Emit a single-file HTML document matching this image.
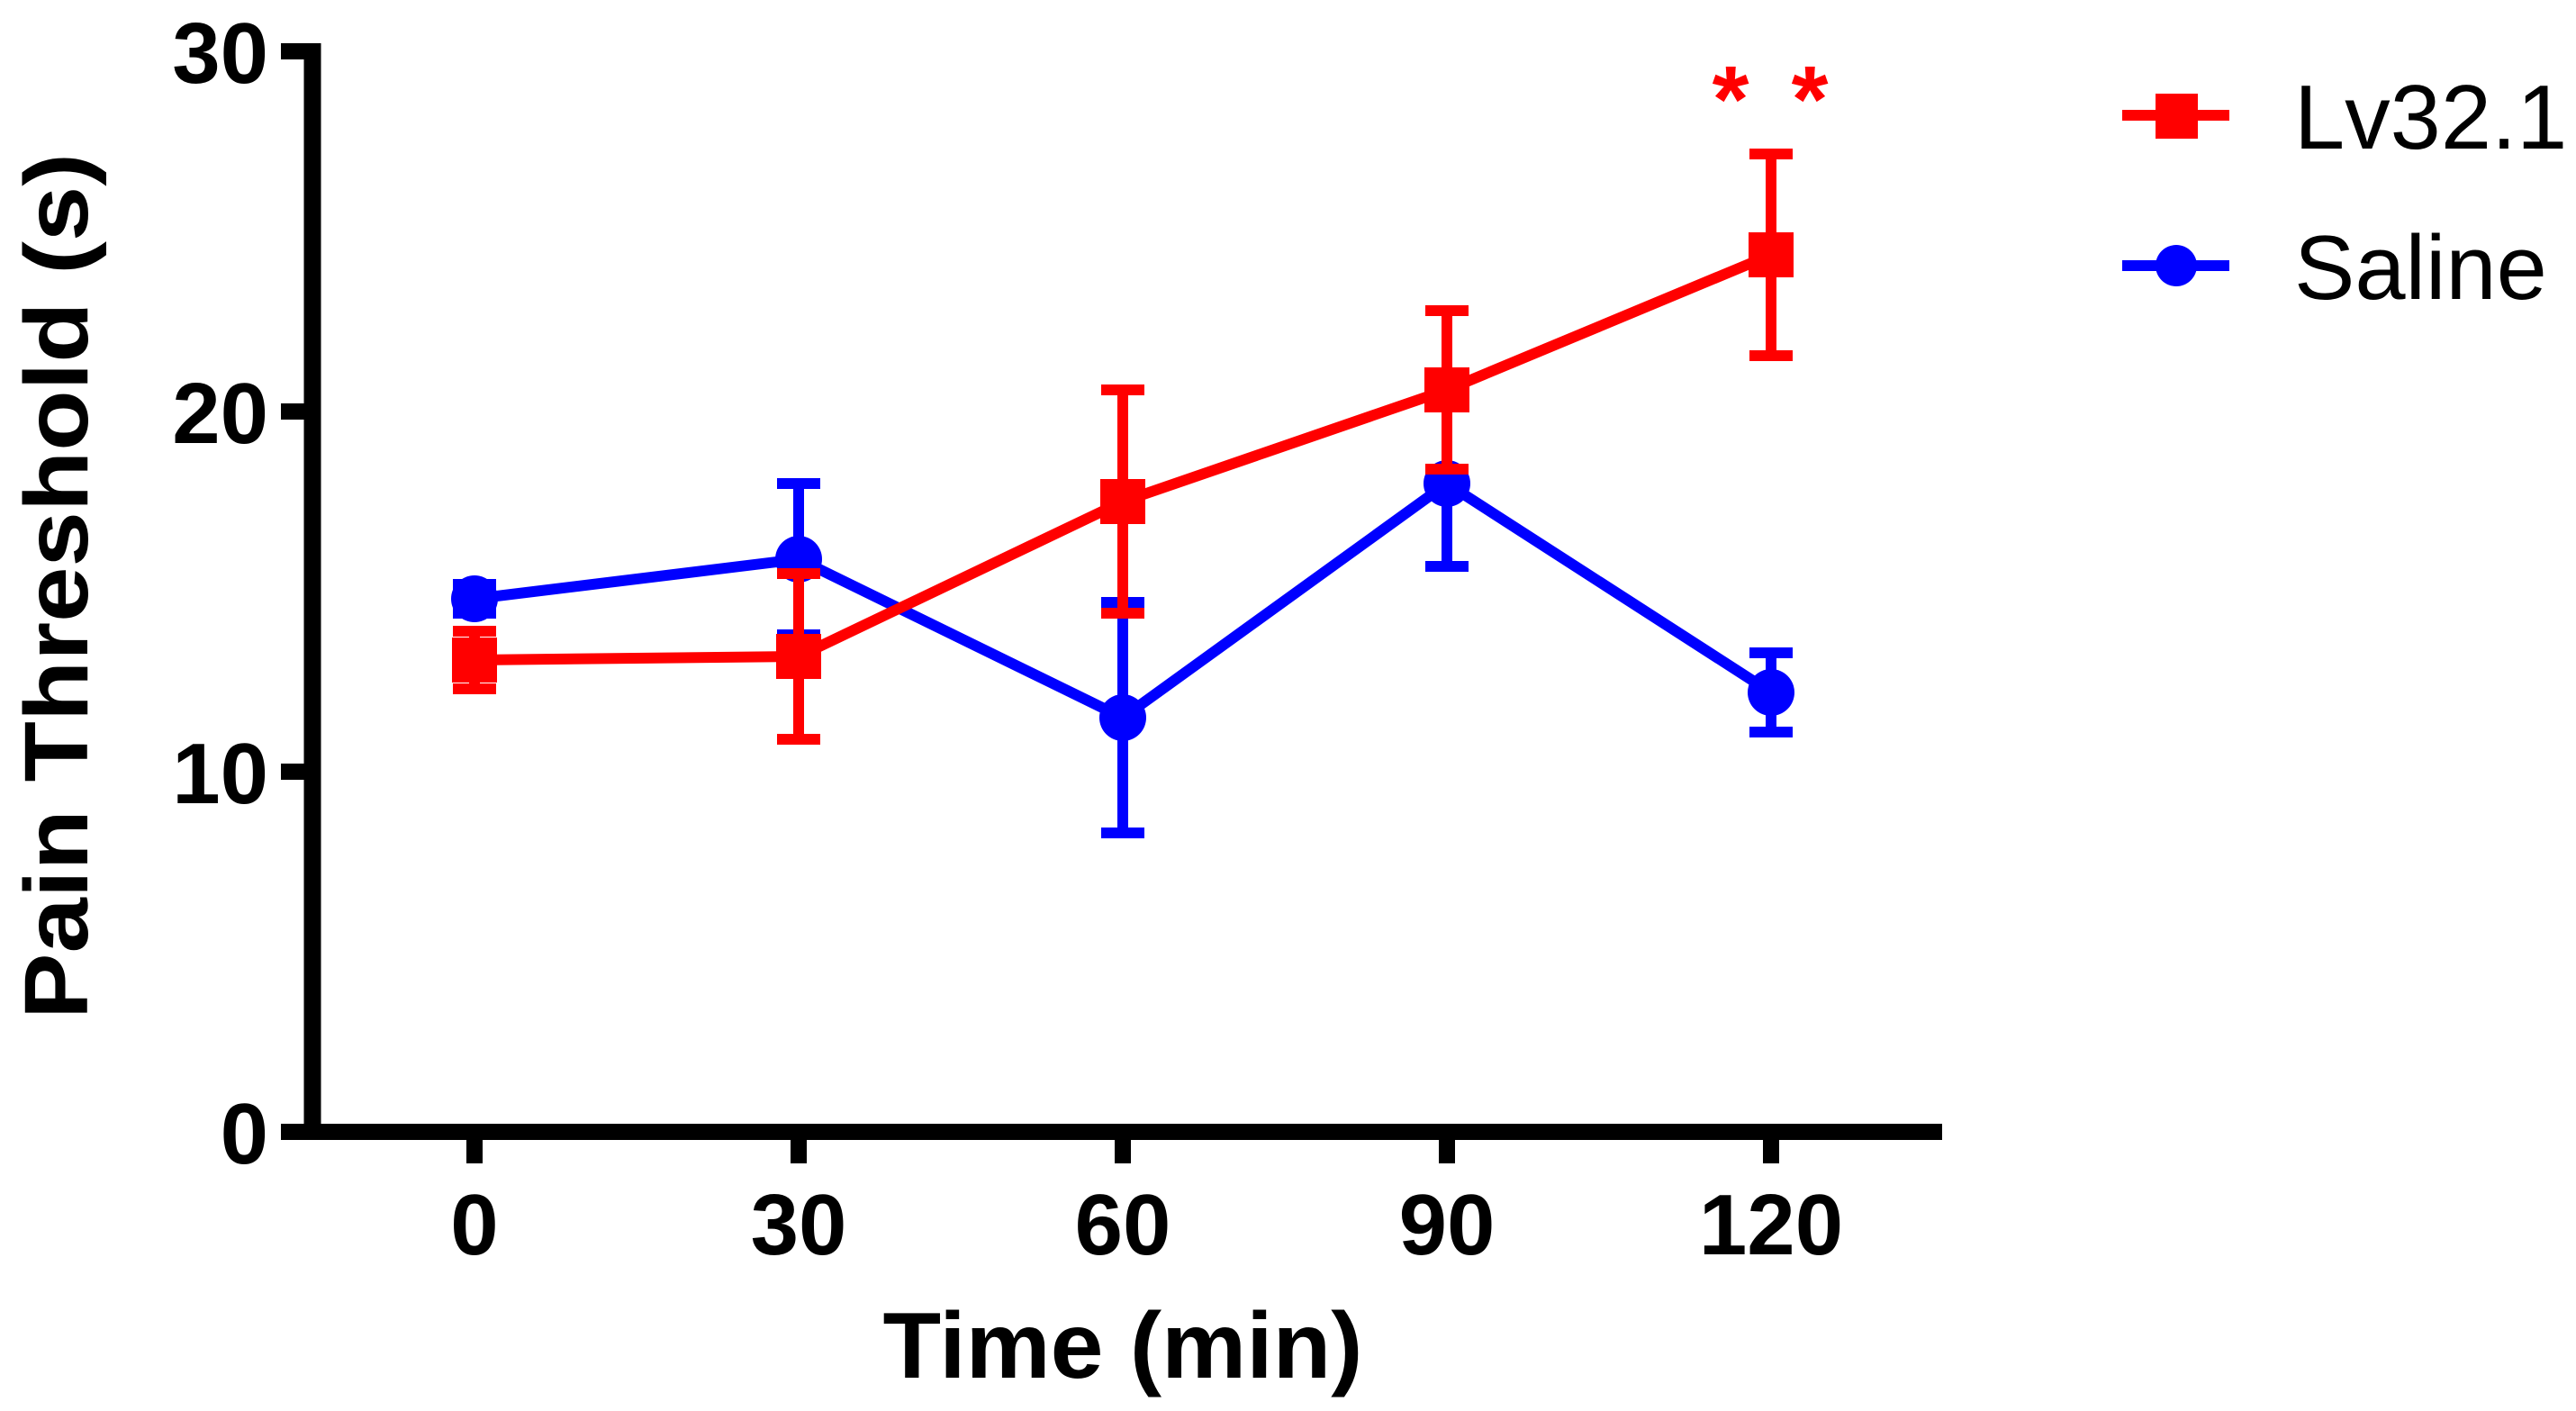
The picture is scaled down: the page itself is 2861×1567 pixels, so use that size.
<!DOCTYPE html>
<html><head><meta charset="utf-8"><style>
html,body{margin:0;padding:0;background:#fff;}
svg{display:block;}
text{font-family:"Liberation Sans",Arial,sans-serif;}
</style></head><body>
<svg id="chart" width="2861" height="1567" viewBox="0 0 2861 1567">
<g id="axes"></g>
<g id="series"></g>
<g id="legend">
  <line x1="2357" y1="128" x2="2476" y2="128" stroke="#ff0000" stroke-width="12"/>
  <rect x="2394" y="104" width="47" height="50" fill="#ff0000"/>
  <text x="2548" y="165" font-size="101" fill="#000">Lv32.1</text>
  <line x1="2357" y1="295" x2="2476" y2="295" stroke="#0000ff" stroke-width="12"/>
  <circle cx="2417" cy="295" r="23" fill="#0000ff"/>
  <text x="2548" y="332" font-size="101" fill="#000">Saline</text>
</g>
<text x="1247" y="1530" font-size="104" font-weight="bold" text-anchor="middle" textLength="533" lengthAdjust="spacingAndGlyphs">Time (min)</text>
<text transform="translate(97,651) rotate(-90)" font-size="100" font-weight="bold" text-anchor="middle" textLength="962" lengthAdjust="spacingAndGlyphs">Pain Threshold (s)</text>
<text x="1922" y="146" font-size="105" font-weight="bold" fill="#ff0000" text-anchor="middle">*</text>
<text x="2010" y="146" font-size="105" font-weight="bold" fill="#ff0000" text-anchor="middle">*</text>
</svg>
<script>
const timePoints = [0, 30, 60, 90, 120];
const xTicks = ["0", "30", "60", "90", "120"];
const yTicks = [0, 10, 20, 30];
const lvMeans = [13.1, 13.2, 17.5, 20.6, 24.35];
const lvErrors = [0.8, 2.3, 3.1, 2.2, 2.8];
const salineMeans = [14.8, 15.9, 11.5, 18.0, 12.2];
const salineErrors = [0.4, 2.1, 3.2, 2.3, 1.1];

const NS = "http://www.w3.org/2000/svg";
const xScale = v => 527 + v * 12;
const yScale = v => 1257 - v * 40;
function mk(tag, attrs, parent) {
  const e = document.createElementNS(NS, tag);
  for (const k in attrs) e.setAttribute(k, attrs[k]);
  parent.appendChild(e);
  return e;
}
const axes = document.getElementById('axes');
let el = mk('line', {x1: 347, y1: yScale(30) - 9, x2: 347, y2: 1266, stroke: '#000', 'stroke-width': 19}, axes);


el = mk('line', {x1: 312, y1: 1257, x2: 2157, y2: 1257, stroke: '#000', 'stroke-width': 18}, axes);


yTicks.forEach(t => {
  let tk = mk('line', {x1: 312, y1: yScale(t), x2: 350, y2: yScale(t), stroke: '#000', 'stroke-width': 18}, axes);
  
  
  let lb = mk('text', {x: 298, y: yScale(t) + 35, 'font-size': 96, 'font-weight': 'bold', 'text-anchor': 'end'}, axes);
  lb.textContent = String(t);
  
  
});
timePoints.forEach((t, i) => {
  let tk = mk('line', {x1: xScale(t), y1: 1257, x2: xScale(t), y2: 1292, stroke: '#000', 'stroke-width': 18}, axes);
  
  
  let lb = mk('text', {x: xScale(t), y: 1393, 'font-size': 96, 'font-weight': 'bold', 'text-anchor': 'middle'}, axes);
  lb.textContent = xTicks[i];
  
  
});
const series = document.getElementById('series');
function drawSeries(means, errs, color, shape, name) {
  const g = mk('g', {}, series);
  
  
  means.forEach((m, i) => {
    const x = xScale(timePoints[i]);
    const eb = mk('path', {d: `M${x},${yScale(m - errs[i])}V${yScale(m + errs[i])}M${x - 24},${yScale(m + errs[i])}H${x + 24}M${x - 24},${yScale(m - errs[i])}H${x + 24}`, stroke: color, 'stroke-width': 12, fill: 'none'}, g);
    
    
  });
  const pts = means.map((m, i) => xScale(timePoints[i]) + ',' + yScale(m)).join(' ');
  const ln = mk('polyline', {points: pts, stroke: color, 'stroke-width': 12, fill: 'none'}, g);
  
  
  means.forEach((m, i) => {
    const x = xScale(timePoints[i]), y = yScale(m);
    let p;
    if (shape === 'square') p = mk('rect', {x: x - 25, y: y - 25, width: 50, height: 50, fill: color}, g);
    else p = mk('circle', {cx: x, cy: y, r: 26, fill: color}, g);
    
    
  });
}
drawSeries(salineMeans, salineErrors, '#0000ff', 'circle', 'saline');
drawSeries(lvMeans, lvErrors, '#ff0000', 'square', 'lv32');
</script>
</body></html>
